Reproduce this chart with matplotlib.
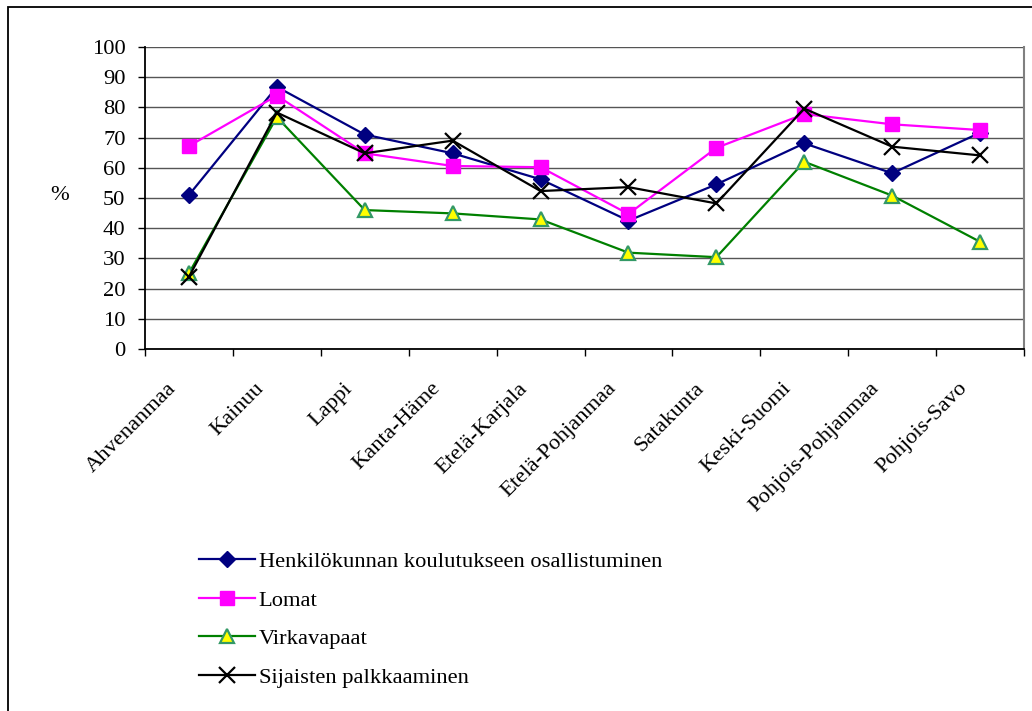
import numpy as np
import matplotlib.pyplot as plt
from matplotlib.patches import Rectangle
from matplotlib.ticker import FixedLocator, NullFormatter
from matplotlib.transforms import ScaledTranslation

plt.rcParams['font.family'] = ['Liberation Serif', 'DejaVu Serif']

regions = ["Ahvenanmaa", "Kainuu", "Lappi", "Kanta-Häme", "Etelä-Karjala",
           "Etelä-Pohjanmaa", "Satakunta", "Keski-Suomi", "Pohjois-Pohjanmaa",
           "Pohjois-Savo"]

koulutus = [51.0, 86.8, 71.0, 64.8, 56.2, 42.5, 54.5, 68.1, 58.2, 71.6]
lomat = [67.2, 83.9, 64.8, 60.6, 60.2, 44.7, 66.6, 77.8, 74.4, 72.5]
virkavapaat = [25.1, 76.8, 46.0, 44.9, 42.9, 31.9, 30.4, 62.0, 50.8, 35.5]
sijaiset = [23.9, 78.3, 64.8, 69.0, 52.3, 53.6, 48.2, 79.6, 67.0, 64.1]

series_labels = ["Henkilökunnan koulutukseen osallistuminen", "Lomat",
                 "Virkavapaat", "Sijaisten palkkaaminen"]

W, H = 1032, 711
FS = 16.2
fig = plt.figure(figsize=(W / 100, H / 100), dpi=100)

# outer frame around the chart area
fig.patches.append(Rectangle((8 / W, -0.1), 1.2, (H - 7) / H + 0.1,
                             transform=fig.transFigure, fill=False,
                             edgecolor="black", linewidth=1.3))

ax = fig.add_axes([145 / W, 1 - 349 / H, (1024 - 145) / W, (349 - 47) / H])

x = np.arange(len(regions))
ax.plot(x, koulutus, color="#000080", lw=1.6, marker="D", ms=8.5,
        mfc="#000080", mec="#000080", label=series_labels[0], zorder=3)
ax.plot(x, lomat, color="#FF00FF", lw=1.6, marker="s", ms=9.5,
        mfc="#FF00FF", mec="#FF00FF", label=series_labels[1], zorder=3)
ax.plot(x, virkavapaat, color="#008000", lw=1.6, marker="^", ms=10.5,
        mfc="#FFFF00", mec="#339966", mew=1.6, label=series_labels[2], zorder=3)
ax.plot(x, sijaiset, color="black", lw=1.6, marker="x", ms=11, mew=1.6,
        label=series_labels[3], zorder=4)

ax.set_xlim(-0.5, len(regions) - 0.5)
ax.set_ylim(0, 100)
ax.set_yticks(np.arange(0, 101, 10))
ax.yaxis.grid(True, color="#555555", lw=1)
ax.set_axisbelow(True)

ax.spines["top"].set_visible(False)
ax.spines["right"].set_color("#808080")
ax.spines["right"].set_linewidth(1.5)
ax.spines["left"].set_linewidth(1.3)
ax.spines["bottom"].set_linewidth(1.3)

# category ticks sit on the boundaries between regions
ax.set_xticks(x)
ax.xaxis.set_major_formatter(NullFormatter())
ax.tick_params(axis="x", which="major", length=0)
ax.xaxis.set_minor_locator(FixedLocator(np.arange(-0.5, len(regions), 1.0)))
ax.tick_params(axis="x", which="minor", length=5, width=1, direction="out")
ax.tick_params(axis="y", length=5, width=1, direction="out", labelsize=FS,
               pad=9)

# slanted region names, hung below and to the left of each category
offset = ScaledTranslation(-0.22, -0.30, fig.dpi_scale_trans)
for i, name in enumerate(regions):
    ax.text(x[i], 0, name, transform=ax.get_xaxis_transform() + offset,
            rotation=45, rotation_mode="anchor", ha="right", va="top",
            fontsize=FS)

ax.set_ylabel("%", rotation=0, fontsize=FS, va="center", ha="center")
ax.yaxis.set_label_coords((60 - 145) / (1024 - 145), (349 - 196) / (349 - 47))

fig.legend(loc="upper left", bbox_to_anchor=(190 / W, 1 - 542 / H),
           frameon=False, fontsize=FS, handlelength=2.5, handletextpad=0.15,
           labelspacing=0.8, borderaxespad=0)

fig.savefig("out.png", dpi=100)
